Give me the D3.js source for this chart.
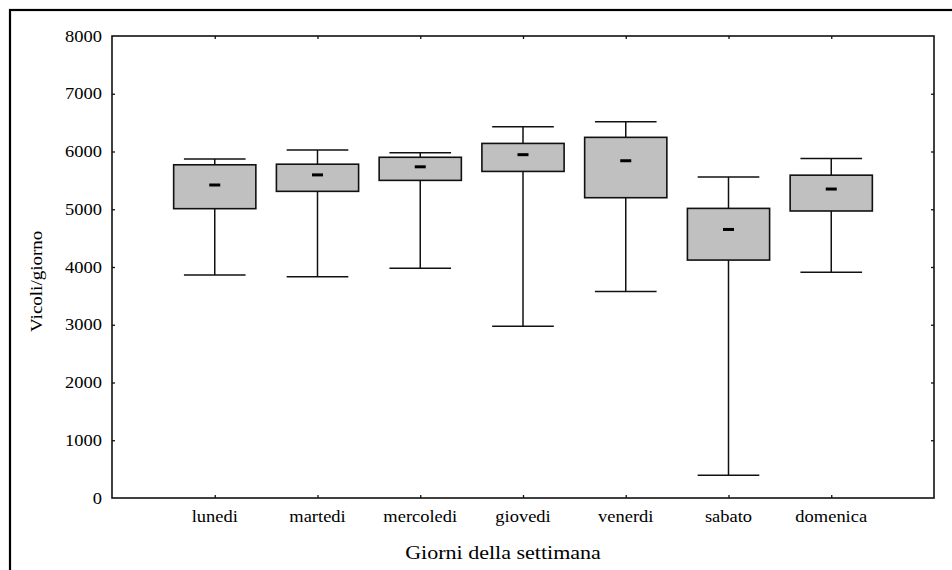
<!DOCTYPE html>
<html>
<head>
<meta charset="utf-8">
<script src="https://cdn.jsdelivr.net/npm/d3@7"></script>
<style>
  html, body { margin: 0; padding: 0; background: #fff; }
  svg { display: block; }
  text { font-family: "Liberation Serif", "Times New Roman", serif; fill: #000; }
</style>
</head>
<body>
<svg id="chart" width="952" height="570"></svg>
<script>
// ---- data ----
const categories = ["lunedi", "martedi", "mercoledi", "giovedi", "venerdi", "sabato", "domenica"];
const whiskerLow  = [3860, 3830, 3980, 2975, 3575, 395, 3910];
const boxLow      = [5010, 5310, 5500, 5655, 5200, 4120, 4970];
const meanValue   = [5420, 5595, 5735, 5945, 5840, 4650, 5350];
const boxHigh     = [5770, 5780, 5900, 6140, 6245, 5015, 5590];
const whiskerHigh = [5870, 6025, 5980, 6430, 6515, 5560, 5880];
const yTicks = [0, 1000, 2000, 3000, 4000, 5000, 6000, 7000, 8000];
const xTitle = "Giorni della settimana";
const yTitle = "Vicoli/giorno";

// ---- layout ----
const svg = d3.select("#chart");
const L = 112, R = 934, T = 36, B = 498;
const stretch = 1.12;

const x = d3.scaleLinear().domain([0, categories.length + 1]).range([L, R]);
const y = d3.scaleLinear().domain([0, 8000]).range([B, T]);
const bw = x(0.8) - x(0);   // box width
const cw = x(0.6) - x(0);   // whisker cap width

// outer frame (extends past the picture on right/bottom)
svg.append("rect").attr("x", 10).attr("y", 10).attr("width", 1000).attr("height", 600)
  .attr("fill", "none").attr("stroke", "#000").attr("stroke-width", 2.2);

const data = categories.map((c, i) => ({
  c, i: i + 1, wl: whiskerLow[i], bl: boxLow[i], m: meanValue[i], bh: boxHigh[i], wh: whiskerHigh[i]
}));

const g = svg.append("g");
const boxes = g.selectAll("g.box").data(data).enter().append("g").attr("class", "box");

// whisker stems
boxes.append("line")
  .attr("x1", d => x(d.i)).attr("x2", d => x(d.i))
  .attr("y1", d => y(d.wl)).attr("y2", d => y(d.bl))
  .attr("stroke", "#111").attr("stroke-width", 1.5);
boxes.append("line")
  .attr("x1", d => x(d.i)).attr("x2", d => x(d.i))
  .attr("y1", d => y(d.bh)).attr("y2", d => y(d.wh))
  .attr("stroke", "#111").attr("stroke-width", 1.5);
// caps
boxes.append("line")
  .attr("x1", d => x(d.i) - cw / 2).attr("x2", d => x(d.i) + cw / 2)
  .attr("y1", d => y(d.wl)).attr("y2", d => y(d.wl))
  .attr("stroke", "#111").attr("stroke-width", 1.5);
boxes.append("line")
  .attr("x1", d => x(d.i) - cw / 2).attr("x2", d => x(d.i) + cw / 2)
  .attr("y1", d => y(d.wh)).attr("y2", d => y(d.wh))
  .attr("stroke", "#111").attr("stroke-width", 1.5);
// boxes
boxes.append("rect")
  .attr("x", d => x(d.i) - bw / 2).attr("width", bw)
  .attr("y", d => y(d.bh)).attr("height", d => y(d.bl) - y(d.bh))
  .attr("fill", "#c0c0c0").attr("stroke", "#111").attr("stroke-width", 1.6);
// mean markers
boxes.append("line")
  .attr("x1", d => x(d.i) - 5.5).attr("x2", d => x(d.i) + 5.5)
  .attr("y1", d => y(d.m)).attr("y2", d => y(d.m))
  .attr("stroke", "#000").attr("stroke-width", 3);

// plot frame
svg.append("rect").attr("x", L).attr("y", T).attr("width", R - L).attr("height", B - T)
  .attr("fill", "none").attr("stroke", "#111").attr("stroke-width", 1.6);

// axes with inward ticks
const catTicks = data.map(d => d.i);
const axL = d3.axisRight(y).tickValues(yTicks.slice(1, -1)).tickSize(3).tickFormat("");
const axR = d3.axisLeft(y).tickValues(yTicks.slice(1, -1)).tickSize(3).tickFormat("");
const axB = d3.axisTop(x).tickValues(catTicks).tickSize(3).tickFormat("");
const axT = d3.axisBottom(x).tickValues(catTicks).tickSize(3).tickFormat("");
[[axL, `translate(${L},0)`], [axR, `translate(${R},0)`], [axB, `translate(0,${B})`], [axT, `translate(0,${T})`]]
  .forEach(([ax, tr]) => {
    const a = svg.append("g").attr("transform", tr).call(ax);
    a.select(".domain").remove();
    a.selectAll(".tick line").attr("stroke", "#111").attr("stroke-width", 1.3);
  });

// y tick labels
svg.append("g").selectAll("text").data(yTicks).enter().append("text")
  .attr("transform", d => `translate(${L - 10},${y(d) + 5.5}) scale(${stretch},1)`)
  .attr("text-anchor", "end").attr("font-size", 16.5)
  .text(d => d);

// category labels
svg.append("g").selectAll("text").data(data).enter().append("text")
  .attr("transform", d => `translate(${x(d.i)},${B + 24}) scale(${stretch},1)`)
  .attr("text-anchor", "middle").attr("font-size", 16.5)
  .text(d => d.c);

// axis titles
svg.append("text")
  .attr("transform", `translate(503,559) scale(1.13,1)`)
  .attr("text-anchor", "middle").attr("font-size", 19.5)
  .text(xTitle);
svg.append("text")
  .attr("transform", `translate(41.5,332) rotate(-90) scale(${stretch},1)`)
  .attr("text-anchor", "start").attr("font-size", 17)
  .text(yTitle);
</script>
</body>
</html>
